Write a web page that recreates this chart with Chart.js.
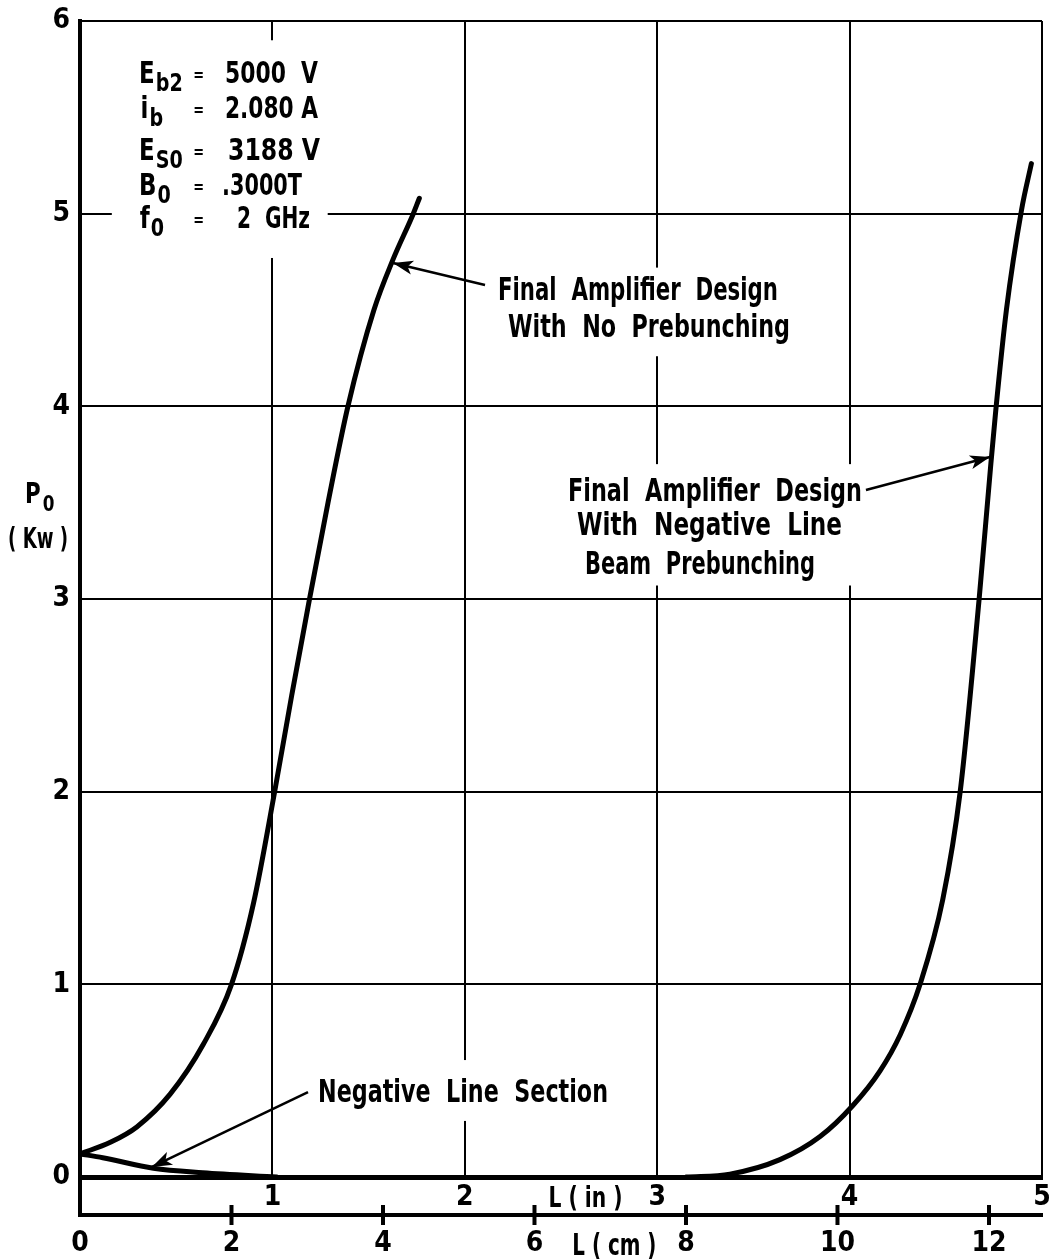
<!DOCTYPE html>
<html>
<head>
<meta charset="utf-8">
<script src="https://cdn.jsdelivr.net/npm/chart.js@4.4.1/dist/chart.umd.min.js"></script>
<style>
  html, body { margin: 0; padding: 0; background: #fff; }
</style>
</head>
<body>
<canvas id="chart" width="1052" height="1259"></canvas>
<script>
// values: L in cm, Po in kW
const noPrebunchL = [0, 0.4, 0.75, 1.19, 1.63, 2.0, 2.29, 2.57, 2.795, 3.03, 3.274, 3.537, 3.88, 4.13, 4.40, 4.48];
const noPrebunchP = [0.12, 0.18, 0.26, 0.43, 0.69, 1.0, 1.42, 2.0, 2.5, 3.0, 3.5, 4.0, 4.5, 4.76, 5.0, 5.08];

const negLineL = [0, 0.3, 0.97, 1.62, 2.6];
const negLineP = [0.12, 0.10, 0.045, 0.022, 0.0];

const prebunchL = [8.0, 8.58, 9.24, 9.77, 10.2, 10.56, 10.83, 11.09, 11.39, 11.62, 11.87, 12.02, 12.09, 12.23, 12.43, 12.56];
const prebunchP = [0, 0.015, 0.09, 0.21, 0.37, 0.55, 0.74, 1.0, 1.44, 2.0, 3.0, 3.68, 3.98, 4.5, 5.02, 5.26];

const cmTicks = [0, 2, 4, 6, 8, 10, 12];
const inchTicks = [1, 2, 3, 4, 5];
const powerTicks = [0, 1, 2, 3, 4, 5, 6];

const FONT = '"DejaVu Sans Condensed", "DejaVu Sans", sans-serif';
const tickFont = { family: FONT, size: 28, weight: 'bold' };

// parameter block (left edge and baseline in cm / kW)
const params = [
  { main: 'E', sub: 'b2', value: '5000  V', x: 0.78, y: 5.678, vx: 1.914, vw: 93 },
  { main: 'i', sub: 'b', value: '2.080 A', x: 0.80, y: 5.496, vx: 1.914, vw: 93 },
  { main: 'E', sub: 'S0', value: '3188 V', x: 0.78, y: 5.278, vx: 1.954, vw: 92 },
  { main: 'B', sub: '0', value: '.3000T', x: 0.78, y: 5.097, vx: 1.875, vw: 80 },
  { main: 'f', sub: '0', value: '2  GHz', x: 0.79, y: 4.925, vx: 2.073, vw: 73 }
];
const eqX = 1.56;

// curve labels: left edge, baseline, width in px
const notes = [
  { text: 'Final  Amplifier  Design', x: 5.518, y: 4.552, w: 280 },
  { text: 'With  No  Prebunching', x: 5.650, y: 4.360, w: 282 },
  { text: 'Final  Amplifier  Design', x: 6.442, y: 3.509, w: 294 },
  { text: 'With  Negative  Line', x: 6.561, y: 3.332, w: 265 },
  { text: 'Beam  Prebunching', x: 6.667, y: 3.130, w: 230 },
  { text: 'Negative  Line  Section', x: 3.142, y: 0.389, w: 290 }
];

const arrows = [
  { from: [5.347, 4.630], to: [4.132, 4.744] },
  { from: [10.376, 3.566], to: [12.013, 3.737] },
  { from: [3.010, 0.441], to: [0.950, 0.052] }
];

// white boxes where the grid is broken around the lettering
const gaps = [
  { x0: 0.42, x1: 3.27, y0: 5.90, y1: 4.77 },
  { x0: 5.41, x1: 9.50, y0: 4.72, y1: 4.26 },
  { x0: 6.34, x1: 10.43, y0: 3.70, y1: 3.07 },
  { x0: 3.06, x1: 7.02, y0: 0.607, y1: 0.291 }
];

function fitText(ctx, str, x, y, width, size) {
  ctx.save();
  ctx.font = 'bold ' + size + 'px ' + FONT;
  const w = ctx.measureText(str).width;
  ctx.translate(x, y);
  ctx.scale(width / w, 1);
  ctx.textAlign = 'left';
  ctx.textBaseline = 'alphabetic';
  ctx.fillStyle = '#000';
  ctx.fillText(str, 0, 0);
  ctx.restore();
}

function plainText(ctx, str, x, y, size, sx) {
  ctx.save();
  ctx.font = 'bold ' + size + 'px ' + FONT;
  ctx.translate(x, y);
  ctx.scale(sx, 1);
  ctx.textAlign = 'left';
  ctx.textBaseline = 'alphabetic';
  ctx.fillStyle = '#000';
  ctx.fillText(str, 0, 0);
  const w = ctx.measureText(str).width * sx;
  ctx.restore();
  return w;
}

function drawArrow(ctx, x1, y1, x2, y2) {
  const ang = Math.atan2(y2 - y1, x2 - x1);
  ctx.save();
  ctx.strokeStyle = '#000';
  ctx.fillStyle = '#000';
  ctx.lineWidth = 2.5;
  ctx.beginPath();
  ctx.moveTo(x1, y1);
  ctx.lineTo(x2, y2);
  ctx.stroke();
  ctx.translate(x2, y2);
  ctx.rotate(ang);
  ctx.beginPath();
  ctx.moveTo(0, 0);
  ctx.lineTo(-20, -7);
  ctx.lineTo(-15, 0);
  ctx.lineTo(-20, 7);
  ctx.closePath();
  ctx.fill();
  ctx.restore();
}

const decorPlugin = {
  id: 'decor',
  beforeDatasetsDraw(chart) {
    const ctx = chart.ctx;
    const xs = chart.scales.xcm, ys = chart.scales.y;
    ctx.save();
    ctx.fillStyle = '#fff';
    gaps.forEach(g => {
      const a = xs.getPixelForValue(g.x0), b = xs.getPixelForValue(g.x1);
      const c = ys.getPixelForValue(g.y0), d = ys.getPixelForValue(g.y1);
      ctx.fillRect(a, c, b - a, d - c);
    });
    ctx.restore();
  },
  afterDatasetsDraw(chart) {
    const ctx = chart.ctx;
    const xs = chart.scales.xcm, ys = chart.scales.y, xin = chart.scales.xin;
    const area = chart.chartArea;

    // left frame runs down to the cm scale, cm ticks cross the line
    ctx.save();
    ctx.strokeStyle = '#000';
    ctx.lineWidth = 4;
    ctx.beginPath();
    ctx.moveTo(area.left, area.bottom);
    ctx.lineTo(area.left, xs.top + 2);
    ctx.stroke();
    xs.ticks.forEach(t => {
      if (t.value === 0) return;
      const px = xs.getPixelForValue(t.value);
      ctx.beginPath();
      ctx.moveTo(px, xs.top - 10);
      ctx.lineTo(px, xs.top + 10);
      ctx.stroke();
    });
    ctx.restore();

    // parameter block
    params.forEach(p => {
      const x = xs.getPixelForValue(p.x), y = ys.getPixelForValue(p.y);
      const w = plainText(ctx, p.main, x, y, 30, 0.85);
      plainText(ctx, p.sub, x + w + 1, y + 8, 25, 0.85);
      plainText(ctx, '=', xs.getPixelForValue(eqX) - 5, y - 2, 18, 0.8);
      fitText(ctx, p.value, xs.getPixelForValue(p.vx), y, p.vw, 30);
    });

    notes.forEach(n => {
      fitText(ctx, n.text, xs.getPixelForValue(n.x), ys.getPixelForValue(n.y), n.w, 32);
    });

    arrows.forEach(a => {
      drawArrow(ctx,
        xs.getPixelForValue(a.from[0]), ys.getPixelForValue(a.from[1]),
        xs.getPixelForValue(a.to[0]), ys.getPixelForValue(a.to[1]));
    });

    // axis titles
    const pw = plainText(ctx, 'P', xs.getPixelForValue(-0.726), ys.getPixelForValue(3.498), 28, 0.85);
    plainText(ctx, '0', xs.getPixelForValue(-0.726) + pw + 2, ys.getPixelForValue(3.498) + 8, 22, 0.85);
    fitText(ctx, '( Kw )', xs.getPixelForValue(-0.95), ys.getPixelForValue(3.265), 60, 28);

    fitText(ctx, 'L ( in )', xin.getPixelForValue(2.435), xin.top + 30, 74, 29);
    fitText(ctx, 'L ( cm )', xs.getPixelForValue(6.5), xs.top + 40, 84, 31);
  }
};

const toPoints = (xs, ys) => xs.map((x, i) => ({ x: x, y: ys[i] }));
const curve = (label, xs, ys) => ({
  label: label,
  data: toPoints(xs, ys),
  xAxisID: 'xcm',
  yAxisID: 'y',
  borderColor: '#000',
  borderWidth: 5,
  pointRadius: 0,
  fill: false,
  cubicInterpolationMode: 'monotone',
  borderCapStyle: 'round',
  borderJoinStyle: 'round'
});

new Chart(document.getElementById('chart'), {
  type: 'line',
  data: {
    datasets: [
      curve('Final Amplifier Design With No Prebunching', noPrebunchL, noPrebunchP),
      curve('Negative Line Section', negLineL, negLineP),
      curve('Final Amplifier Design With Negative Line Beam Prebunching', prebunchL, prebunchP)
    ]
  },
  options: {
    responsive: false,
    animation: false,
    devicePixelRatio: 1,
    layout: { padding: { top: 21, right: 10, left: 0, bottom: 0 } },
    plugins: { legend: { display: false }, tooltip: { enabled: false } },
    scales: {
      y: {
        type: 'linear', position: 'left', min: 0, max: 6,
        afterBuildTicks: s => { s.ticks = powerTicks.map(v => ({ value: v })); },
        afterFit: s => { s.width = 80; s.paddingTop = 0; s.paddingBottom = 0; },
        grid: { color: '#000', lineWidth: 2, drawTicks: false },
        border: { color: '#000', width: 4 },
        ticks: { color: '#000', padding: 10, font: tickFont }
      },
      xin: {
        type: 'linear', position: 'bottom', min: 0, max: 5,
        afterBuildTicks: s => { s.ticks = inchTicks.map(v => ({ value: v })); },
        afterFit: s => { s.height = 38; s.paddingLeft = 0; s.paddingRight = 0; },
        grid: { color: '#000', lineWidth: 2, drawTicks: false },
        border: { color: '#000', width: 5 },
        ticks: { color: '#000', padding: 4, font: tickFont }
      },
      xcm: {
        type: 'linear', position: 'bottom', min: 0, max: 12.7,
        afterBuildTicks: s => { s.ticks = cmTicks.map(v => ({ value: v })); },
        afterFit: s => { s.height = 44; s.paddingLeft = 0; s.paddingRight = 0; },
        grid: { drawOnChartArea: false, drawTicks: false, color: '#000' },
        border: { color: '#000', width: 4 },
        ticks: { color: '#000', padding: 12, font: tickFont }
      }
    }
  },
  plugins: [decorPlugin]
});
</script>
</body>
</html>
